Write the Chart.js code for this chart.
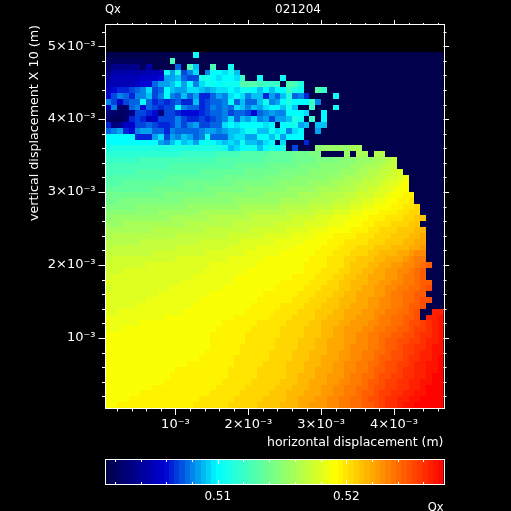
<!DOCTYPE html>
<html>
<head>
<meta charset="utf-8">
<script src="https://cdn.jsdelivr.net/npm/chart.js@4/dist/chart.umd.min.js"></script>
<style>
  html, body { margin: 0; background: #000; overflow: hidden; }
  canvas { position: absolute; left: 0; top: 0; }
</style>
</head>
<body>
<canvas id="map" width="511" height="511"></canvas>
<canvas id="bar" width="511" height="511"></canvas>
<script>
// Qx, in units of 0.0005 above 0.5. One list per scan line, top to bottom.
// 3 is the bottom of the colour scale, also used for lost particles.
const qxRows = [
[3,3,3,3,3,3,3,3,3,3,3,3,3,3,3,21,3,3,3,3,3,3,3,3,3,3,3,3,3,3,3,3,3,3,3,3,3,3,3,3,3,3,3,3,3,3,3,3,3,3,3,3,3,3,3,3,3,3],
[4,4,4,4,4,4,4,3,3,3,3,25,3,3,3,3,3,3,3,3,3,3,3,3,3,3,3,3,3,3,3,3,3,3,3,3,3,3,3,3,3,3,3,3,3,3,3,3,3,3,3,3,3,3,3,3,3,3],
[5,7,7,7,7,7,4,9,3,3,3,3,15,3,25,18,3,3,25,3,3,21,3,3,3,3,3,3,3,3,3,3,3,3,3,3,3,3,3,3,3,3,3,3,3,3,3,3,3,3,3,3,3,3,3,3,3,3],
[6,9,9,9,9,9,9,10,10,10,21,17,22,14,16,19,3,16,20,20,19,21,18,3,3,3,3,3,3,3,3,3,3,3,3,3,3,3,3,3,3,3,3,3,3,3,3,3,3,3,3,3,3,3,3,3,3,3],
[8,10,10,10,10,10,11,11,11,12,17,17,18,15,14,14,21,22,20,19,20,20,19,24,3,3,21,3,3,3,21,3,3,3,3,3,3,3,3,3,3,3,3,3,3,3,3,3,3,3,3,3,3,3,3,3,3,3],
[9,10,10,10,10,11,12,12,15,17,17,18,20,17,20,16,19,21,21,20,21,21,21,26,26,26,25,24,24,24,3,26,25,22,3,3,3,3,3,3,3,3,3,3,3,3,3,3,3,3,3,3,3,3,3,3,3,3],
[10,12,13,13,14,15,16,19,14,15,20,18,17,17,19,19,18,17,18,19,19,20,19,21,21,20,18,20,18,20,20,24,22,21,3,3,26,24,3,3,3,3,3,3,3,3,3,3,3,3,3,3,3,3,3,3,3,3],
[12,14,16,15,13,16,16,18,14,16,20,16,15,18,15,17,13,13,15,17,16,19,20,19,16,18,18,13,17,15,18,22,15,16,13,3,3,3,3,21,3,3,3,3,3,3,3,3,3,3,3,3,3,3,3,3,3,3],
[16,14,11,14,15,15,20,15,13,14,13,14,15,13,13,18,13,14,15,15,16,20,15,18,15,15,18,21,16,17,20,22,20,20,20,24,16,3,3,3,3,3,3,3,3,3,3,3,3,3,3,3,3,3,3,3,3,3],
[10,16,5,5,15,16,12,15,14,13,14,14,20,16,15,15,13,14,16,15,16,15,19,18,16,18,17,19,20,20,18,21,18,3,3,24,3,3,3,21,3,3,3,3,3,3,3,3,3,3,3,3,3,3,3,3,3,3],
[6,5,4,5,7,14,14,13,12,6,14,14,13,12,12,12,13,14,15,15,16,14,15,15,14,12,15,16,17,16,16,20,20,20,19,3,3,20,3,3,3,3,3,3,3,3,3,3,3,3,3,3,3,3,3,3,3,3],
[5,4,4,5,13,14,13,10,11,14,14,14,16,14,13,13,14,13,14,15,16,19,15,18,17,19,16,17,14,17,17,18,22,21,3,24,3,20,3,3,3,3,3,3,3,3,3,3,3,3,3,3,3,3,3,3,3,3],
[13,6,7,11,11,14,14,15,14,13,13,14,16,14,16,17,14,14,15,15,19,20,19,20,20,20,20,19,20,3,20,21,21,17,18,3,18,18,3,3,3,3,3,3,3,3,3,3,3,3,3,3,3,3,3,3,3,3],
[15,16,17,13,12,16,17,17,15,15,13,16,15,15,15,15,16,17,17,16,17,18,18,19,21,21,18,18,21,19,20,16,19,20,3,3,17,3,3,3,3,3,3,3,3,3,3,3,3,3,3,3,3,3,3,3,3,3],
[20,20,20,20,20,13,13,13,17,19,14,17,16,18,17,15,16,21,15,15,15,18,19,19,17,17,20,20,18,21,17,20,20,20,3,3,3,3,3,3,3,3,3,3,3,3,3,3,3,3,3,3,3,3,3,3,3,3],
[20,20,20,20,20,20,20,20,20,17,16,18,20,18,19,17,20,21,20,19,18,19,18,21,18,18,17,19,20,3,19,3,3,3,13,3,3,3,3,3,3,3,3,3,3,3,3,3,3,3,3,3,3,3,3,3,3,3],
[22,22,22,22,22,22,22,22,22,22,22,22,22,22,22,22,22,22,22,22,21,18,19,20,21,21,18,20,22,20,22,3,14,3,3,3,30,31,31,31,31,31,32,32,3,3,3,3,3,3,3,3,3,3,3,3,3,3],
[23,23,23,23,23,23,23,23,23,23,23,23,23,24,24,24,24,24,24,25,25,25,25,26,26,26,26,26,27,27,27,27,28,28,28,29,29,3,3,3,3,31,3,32,32,3,33,33,3,3,3,3,3,3,3,3,3,3],
[24,24,24,24,24,24,25,25,25,25,25,25,25,25,25,25,25,25,25,26,26,26,26,26,26,26,26,27,27,27,27,27,28,28,28,28,29,29,29,29,30,30,30,31,31,31,32,32,33,34,3,3,3,3,3,3,3,3],
[25,25,25,25,25,25,25,25,25,25,25,26,26,26,26,26,26,26,26,26,26,26,27,27,27,27,27,27,28,28,28,28,28,29,29,29,29,30,30,30,30,30,31,31,32,32,32,33,34,34,3,3,3,3,3,3,3,3],
[25,25,25,25,25,26,26,26,26,26,26,26,26,26,26,26,27,27,27,27,27,27,27,27,28,28,28,28,28,28,29,29,29,29,29,30,30,30,30,30,31,31,31,32,32,33,33,34,34,35,36,3,3,3,3,3,3,3],
[26,26,26,26,26,26,26,26,26,26,27,27,27,27,27,27,27,27,27,27,28,28,28,28,28,28,28,29,29,29,29,29,30,30,30,30,30,30,31,31,31,32,32,32,33,33,34,34,35,35,36,37,3,3,3,3,3,3],
[26,26,26,27,27,27,27,27,27,27,27,27,27,28,28,28,28,28,28,28,28,28,29,29,29,29,29,29,29,30,30,30,30,30,30,31,31,31,31,32,32,32,33,33,34,34,34,35,36,36,37,38,3,3,3,3,3,3],
[27,27,27,27,27,27,27,27,28,28,28,28,28,28,28,28,28,29,29,29,29,29,29,29,30,30,30,30,30,30,30,31,31,31,31,31,32,32,32,32,33,33,33,34,34,35,35,36,36,37,38,38,3,3,3,3,3,3],
[28,28,28,28,28,28,28,28,28,28,29,29,29,29,29,29,29,29,29,30,30,30,30,30,30,30,30,31,31,31,31,31,31,32,32,32,32,33,33,33,33,34,34,35,35,35,36,36,37,38,38,39,39,3,3,3,3,3],
[28,28,29,29,29,29,29,29,29,29,29,29,29,30,30,30,30,30,30,30,30,30,31,31,31,31,31,31,31,31,32,32,32,32,32,33,33,33,33,34,34,34,35,35,36,36,37,37,38,38,39,39,40,3,3,3,3,3],
[29,29,29,29,29,30,30,30,30,30,30,30,30,30,31,31,31,31,31,31,31,31,31,32,32,32,32,32,32,32,33,33,33,33,33,34,34,34,34,35,35,35,36,36,37,37,38,38,38,39,39,40,40,41,3,3,3,3],
[30,30,30,30,30,30,30,30,30,31,31,31,31,31,31,31,32,32,32,32,32,32,32,32,33,33,33,33,33,33,33,34,34,34,34,34,35,35,35,36,36,36,37,37,38,38,38,39,39,39,40,40,41,41,3,3,3,3],
[30,31,31,31,31,31,31,31,31,31,31,32,32,32,32,32,32,32,33,33,33,33,33,33,33,34,34,34,34,34,34,34,35,35,35,35,36,36,36,37,37,37,38,38,38,39,39,39,40,40,40,41,41,42,42,3,3,3],
[31,31,31,32,32,32,32,32,32,32,32,32,32,32,33,33,33,33,33,33,33,33,34,34,34,34,34,34,34,35,35,35,35,35,36,36,36,36,37,37,37,38,38,38,39,39,40,40,40,41,41,41,42,42,3,3,3,3],
[32,32,32,32,32,32,32,32,33,33,33,33,33,33,33,33,33,34,34,34,34,34,34,34,34,35,35,35,35,35,35,36,36,36,36,37,37,37,38,38,38,38,39,39,39,40,40,41,41,41,42,42,42,43,43,3,3,3],
[32,33,33,33,33,33,33,33,33,33,33,33,34,34,34,34,34,34,34,34,34,35,35,35,35,35,35,36,36,36,36,36,37,37,37,37,38,38,38,39,39,39,39,40,40,40,41,41,41,42,42,42,43,43,44,3,3,3],
[33,33,33,33,33,33,34,34,34,34,34,34,34,34,34,34,35,35,35,35,35,35,35,36,36,36,36,36,36,37,37,37,37,37,38,38,38,38,39,39,39,40,40,40,40,41,41,41,42,42,42,43,43,44,44,3,3,3],
[33,34,34,34,34,34,34,34,34,34,34,34,35,35,35,35,35,35,35,35,35,36,36,36,36,36,37,37,37,37,37,37,38,38,38,38,38,39,39,39,40,40,40,41,41,41,42,42,42,43,43,43,44,44,45,3,3,3],
[34,34,34,34,34,34,34,34,35,35,35,35,35,35,35,35,35,36,36,36,36,36,36,36,37,37,37,37,37,37,38,38,38,38,38,38,39,39,39,40,40,40,41,41,41,42,42,43,43,43,44,44,45,46,46,3,3,3],
[34,35,35,35,35,35,35,35,35,35,35,35,36,36,36,36,36,36,36,36,36,37,37,37,37,37,37,38,38,38,38,38,38,38,38,39,39,39,40,40,40,41,41,42,42,42,43,43,44,44,44,45,46,47,47,3,3,3],
[35,35,35,35,35,35,35,36,36,36,36,36,36,36,36,36,36,36,37,37,37,37,37,37,37,37,38,38,38,38,38,38,38,38,39,39,39,39,40,40,40,41,42,42,42,43,43,44,44,45,45,46,46,47,48,49,3,3],
[35,35,35,36,36,36,36,36,36,36,36,36,36,36,36,36,36,37,37,37,37,37,37,37,38,38,38,38,38,38,38,38,38,38,39,39,39,40,40,40,41,41,42,42,43,43,44,44,45,45,46,46,47,48,49,3,3,3],
[35,36,36,36,36,36,36,36,36,36,36,36,36,36,36,37,37,37,37,37,37,37,38,38,38,38,38,38,38,38,38,38,39,39,39,39,40,40,40,41,41,42,42,43,43,44,44,44,45,45,46,47,47,48,49,3,3,3],
[36,36,36,36,36,36,36,36,36,36,36,36,36,37,37,37,37,37,37,37,37,37,38,38,38,38,38,38,38,38,39,39,39,39,39,40,40,40,41,41,42,42,43,43,43,44,44,45,45,46,46,47,47,48,49,49,3,3],
[35,36,36,36,36,36,36,36,36,36,36,37,37,37,37,37,37,37,37,37,38,38,38,38,38,38,38,38,38,39,39,39,39,39,40,40,40,41,41,41,42,42,43,43,44,44,45,45,46,46,47,47,48,48,49,50,3,3],
[36,36,36,36,36,36,36,36,36,37,37,37,37,37,37,37,37,37,38,38,38,38,38,38,38,38,38,39,39,39,39,39,39,40,40,40,41,41,41,42,42,43,43,44,44,44,45,45,46,47,47,48,48,49,49,3,3,3],
[36,36,36,36,36,36,36,37,37,37,37,37,37,37,37,37,38,38,38,38,38,38,38,38,38,38,39,39,39,39,39,39,40,40,40,41,41,41,42,42,43,43,43,44,44,45,45,46,46,47,47,48,48,49,50,50,3,3],
[36,36,36,36,36,37,37,37,37,37,37,37,37,37,37,38,38,38,38,38,38,38,38,38,38,39,39,39,39,39,40,40,40,40,41,41,41,42,42,42,43,43,44,44,44,45,45,46,46,47,47,48,49,49,50,3,3,3],
[36,36,37,37,37,37,37,37,37,37,37,37,37,38,38,38,38,38,38,38,38,38,38,38,39,39,39,39,39,40,40,40,40,41,41,41,42,42,42,43,43,44,44,44,45,45,46,46,47,47,48,48,49,50,3,3,53,53],
[37,37,37,37,37,37,37,37,37,37,38,38,38,38,38,38,38,38,38,38,38,38,39,39,39,39,39,39,40,40,40,40,41,41,41,41,42,42,43,43,43,44,44,45,45,45,46,47,47,48,48,49,49,50,3,53,53,54],
[37,37,37,37,37,37,38,38,38,38,38,38,38,38,38,38,38,38,38,38,39,39,39,39,39,39,40,40,40,40,40,41,41,41,41,42,42,43,43,43,44,44,45,45,45,46,46,47,47,48,48,49,50,50,51,52,53,54],
[37,37,37,38,38,38,38,38,38,38,38,38,38,38,38,38,38,38,38,39,39,39,39,39,39,40,40,40,40,40,41,41,41,41,42,42,42,43,43,44,44,45,45,45,46,46,47,47,48,48,49,49,50,51,51,52,53,54],
[38,38,38,38,38,38,38,38,38,38,38,38,38,38,38,38,38,38,39,39,39,39,39,39,40,40,40,40,40,40,41,41,41,41,42,42,42,43,43,44,44,45,45,46,46,47,47,48,48,49,49,50,50,51,52,52,53,54],
[38,38,38,38,38,38,38,38,38,38,38,38,38,38,38,38,38,38,39,39,39,39,39,39,40,40,40,40,40,41,41,41,41,42,42,42,43,43,44,44,44,45,45,46,46,47,47,48,49,49,50,50,51,51,52,53,53,54],
[38,38,38,38,38,38,38,38,38,38,38,38,38,38,38,38,38,38,39,39,39,39,39,40,40,40,40,40,40,41,41,41,41,42,42,42,43,43,44,44,44,45,46,46,46,47,47,48,49,49,50,51,51,52,52,53,54,54],
[38,38,38,38,38,38,38,38,38,38,38,38,38,38,38,38,38,39,39,39,39,39,39,40,40,40,40,40,41,41,41,41,42,42,42,43,43,43,44,44,45,45,46,46,47,47,48,48,49,50,50,51,51,52,53,53,54,54],
[38,38,38,38,38,38,38,38,38,38,38,38,38,38,38,38,39,39,39,39,39,39,40,40,40,40,40,40,41,41,41,41,42,42,42,43,43,44,44,44,45,45,46,46,47,47,48,49,49,50,50,51,52,52,53,53,54,55],
[38,38,38,38,38,38,38,38,38,38,38,38,38,38,39,39,39,39,39,39,39,39,40,40,40,40,40,41,41,41,41,42,42,42,43,43,43,44,44,45,45,46,46,47,47,48,48,49,50,50,51,51,52,53,53,54,54,55],
[38,38,38,38,38,38,38,38,38,38,38,38,39,39,39,39,39,39,39,39,39,40,40,40,40,40,41,41,41,41,41,42,42,42,43,43,44,44,44,45,45,46,46,47,47,48,49,49,50,50,51,52,52,53,53,54,54,55],
[38,38,38,38,38,38,38,38,38,38,38,39,39,39,39,39,39,39,39,39,39,40,40,40,40,40,41,41,41,41,41,42,42,43,43,43,44,44,45,45,45,46,47,47,48,48,49,50,50,51,51,52,52,53,53,54,55,55],
[38,38,38,38,38,38,38,38,38,38,39,39,39,39,39,39,39,39,39,39,40,40,40,40,40,41,41,41,41,41,42,42,42,43,43,44,44,44,45,45,46,46,47,47,48,49,49,50,51,51,52,52,53,53,54,54,55,55],
[38,38,38,38,38,38,38,38,39,39,39,39,39,39,39,39,39,39,39,40,40,40,40,40,41,41,41,41,41,42,42,42,43,43,43,44,44,45,45,46,46,47,47,48,48,49,50,50,51,51,52,52,53,53,54,55,55,55],
[38,38,38,38,38,38,39,39,39,39,39,39,39,39,39,39,39,39,40,40,40,40,40,41,41,41,41,41,42,42,42,43,43,43,44,44,44,45,45,46,46,47,47,48,49,49,50,51,51,52,52,53,53,54,54,55,55,55],
[38,38,38,38,39,39,39,39,39,39,39,39,39,39,39,39,40,40,40,40,40,40,41,41,41,41,41,42,42,42,42,43,43,44,44,44,45,45,46,46,47,47,48,48,49,50,50,51,52,52,53,53,54,54,55,55,55,55],
[38,38,39,39,39,39,39,39,39,39,39,39,39,39,39,40,40,40,40,40,40,41,41,41,41,41,42,42,42,42,43,43,43,44,44,45,45,45,46,46,47,47,48,48,49,49,50,51,52,52,53,54,54,55,55,55,55,55]
];

const cellSize = 0.08e-3;
const firstCentreX = 0.08e-3;
const firstCentreY = 4.88e-3;

const xMajorTicks = [1e-3, 2e-3, 3e-3, 4e-3];
const xTickLabels = ["10⁻³", "2×10⁻³", "3×10⁻³", "4×10⁻³"];
const yMajorTicks = [1e-3, 2e-3, 3e-3, 4e-3, 5e-3];
const yTickLabels = ["10⁻³", "2×10⁻³", "3×10⁻³", "4×10⁻³", "5×10⁻³"];
const barMajorTicks = [0.51, 0.52];
const barTickLabels = ["0.51", "0.52"];

const xMin = 0.04e-3, xMax = 4.68e-3;
const yMin = 0.04e-3, yMax = 5.29e-3;
const qxMin = 0.50127, qxMax = 0.52756;
const barSteps = 64;

const colourStops = [
  [0, 0, 0, 70],
  [0.176, 0, 0, 210],
  [0.332, 0, 255, 255],
  [0.68, 255, 255, 0],
  [1, 255, 0, 0],
];

const fontFamily = "'DejaVu Sans', sans-serif";
const left = 105.5, right = 443.5;

function qxColour(qx) {
  const f = Math.min(1, Math.max(0, (qx - qxMin) / (qxMax - qxMin)));
  for (let i = 1; i < colourStops.length; i++) {
    const a = colourStops[i - 1], b = colourStops[i];
    if (f <= b[0]) {
      const t = (f - a[0]) / (b[0] - a[0]);
      const c = [1, 2, 3].map((k) => Math.round(a[k] + (b[k] - a[k]) * t));
      return `rgb(${c[0]},${c[1]},${c[2]})`;
    }
  }
  return "rgb(255,0,0)";
}

function minorTicks(from, to, step) {
  const out = [];
  for (let i = Math.ceil(from / step - 1e-6); i * step <= to + 1e-9; i++) out.push(i * step);
  return out;
}

function labelFor(values, labels, v) {
  const i = values.findIndex((t) => Math.abs(t - v) < 1e-9);
  return i < 0 ? "" : labels[i];
}

// fills the cells of every dataset, edges go through the chart scales
const cellsPlugin = {
  id: "cells",
  beforeDatasetsDraw(chart) {
    const { ctx, chartArea, scales } = chart;
    ctx.save();
    ctx.beginPath();
    ctx.rect(chartArea.left, chartArea.top, chartArea.right - chartArea.left, chartArea.bottom - chartArea.top);
    ctx.clip();
    chart.data.datasets[0].data.forEach((p) => {
      const x0 = Math.round(scales.x.getPixelForValue(p.x - p.w / 2));
      const x1 = Math.round(scales.x.getPixelForValue(p.x + p.w / 2));
      const y0 = Math.round(scales.y.getPixelForValue(p.y + p.h / 2));
      const y1 = Math.round(scales.y.getPixelForValue(p.y - p.h / 2));
      ctx.fillStyle = qxColour(p.qx);
      ctx.fillRect(x0, y0, x1 - x0, y1 - y0);
    });
    ctx.restore();
  },
};

function drawFrame(chart) {
  const { ctx, chartArea: a } = chart;
  ctx.strokeStyle = "#fff";
  ctx.lineWidth = 1;
  ctx.strokeRect(Math.round(a.left) - 0.5, Math.round(a.top) - 0.5, Math.round(a.right - a.left) + 1, Math.round(a.bottom - a.top) + 1);
}

function line(ctx, x0, y0, x1, y1) {
  ctx.beginPath();
  ctx.moveTo(x0, y0);
  ctx.lineTo(x1, y1);
  ctx.stroke();
}

const mapFrame = {
  id: "mapFrame",
  afterDraw(chart) {
    const { ctx, chartArea: a, scales } = chart;
    drawFrame(chart);
    const isMajor = (list, v) => list.some((t) => Math.abs(t - v) < 1e-9);
    minorTicks(xMin, xMax, 2e-4).forEach((v) => {
      const x = Math.round(scales.x.getPixelForValue(v)) + 0.5;
      const major = isMajor(xMajorTicks, v);
      line(ctx, x, a.bottom, x, a.bottom + (major ? 7 : 3.5));
      line(ctx, x, a.top, x, a.top - (major ? 5 : 2));
    });
    minorTicks(yMin, yMax, 2e-4).forEach((v) => {
      const y = Math.round(scales.y.getPixelForValue(v)) + 0.5;
      const major = isMajor(yMajorTicks, v);
      line(ctx, a.left, y, a.left - (major ? 7 : 3.5), y);
      line(ctx, a.right, y, a.right + (major ? 5.5 : 3), y);
    });
    ctx.fillStyle = "#fff";
    ctx.textBaseline = "middle";
    ctx.font = "11.5px " + fontFamily;
    ctx.textAlign = "left";
    ctx.fillText("Qx", 105, 10);
    ctx.textAlign = "center";
    ctx.font = "12px " + fontFamily;
    ctx.fillText("021204", 298, 10);
  },
};

const barFrame = {
  id: "barFrame",
  afterDraw(chart) {
    const { ctx, chartArea: a, scales } = chart;
    drawFrame(chart);
    minorTicks(qxMin, qxMax, 0.002).forEach((v) => {
      const x = Math.round(scales.x.getPixelForValue(v)) + 0.5;
      const len = barMajorTicks.some((t) => Math.abs(t - v) < 1e-6) ? 4 : 2;
      line(ctx, x, a.top, x, a.top + len);
      line(ctx, x, a.bottom, x, a.bottom - len);
    });
  },
};

const mapPoints = [];
qxRows.forEach((row, r) => {
  row.forEach((level, c) => {
    mapPoints.push({
      x: firstCentreX + c * cellSize,
      y: firstCentreY - r * cellSize,
      w: cellSize,
      h: cellSize,
      qx: 0.5 + level / 2000,
    });
  });
});

const barPoints = [];
const barStep = (qxMax - qxMin) / barSteps;
for (let i = 0; i < barSteps; i++) {
  const qx = qxMin + (i + 0.5) * barStep;
  barPoints.push({ x: qx, y: 0.5, w: barStep, h: 1, qx });
}

new Chart(document.getElementById("map"), {
  type: "scatter",
  data: { datasets: [{ label: "Qx", data: mapPoints, pointRadius: 0, pointHoverRadius: 0 }] },
  options: {
    responsive: false,
    animation: false,
    events: [],
    layout: { padding: { top: 25, right: 67.5, left: 0, bottom: 0 } },
    plugins: { legend: { display: false }, tooltip: { enabled: false } },
    scales: {
      x: {
        type: "linear",
        min: xMin,
        max: xMax,
        grid: { display: false, drawTicks: false },
        border: { display: false },
        afterBuildTicks: (s) => { s.ticks = xMajorTicks.map((value) => ({ value })); },
        afterFit: (s) => { s.height = 103; },
        ticks: {
          autoSkip: false,
          maxRotation: 0,
          padding: 9,
          color: "#fff",
          font: { family: fontFamily, size: 13 },
          callback: (v) => labelFor(xMajorTicks, xTickLabels, v),
        },
        title: {
          display: true,
          text: "horizontal displacement (m)",
          align: "end",
          color: "#fff",
          font: { family: fontFamily, size: 12.5 },
          padding: { top: 0, bottom: 61 },
        },
      },
      y: {
        type: "linear",
        min: yMin,
        max: yMax,
        grid: { display: false, drawTicks: false },
        border: { display: false },
        afterBuildTicks: (s) => { s.ticks = yMajorTicks.map((value) => ({ value })); },
        afterFit: (s) => { s.width = left; },
        ticks: {
          autoSkip: false,
          padding: 10,
          color: "#fff",
          font: { family: fontFamily, size: 13 },
          callback: (v) => labelFor(yMajorTicks, yTickLabels, v),
        },
        title: {
          display: true,
          text: "vertical displacement X 10 (m)",
          align: "end",
          color: "#fff",
          font: { family: fontFamily, size: 12.7 },
          padding: { top: 27, bottom: 0 },
        },
      },
    },
  },
  plugins: [cellsPlugin, mapFrame],
});

new Chart(document.getElementById("bar"), {
  type: "scatter",
  data: { datasets: [{ label: "Qx scale", data: barPoints, pointRadius: 0, pointHoverRadius: 0 }] },
  options: {
    responsive: false,
    animation: false,
    events: [],
    layout: { padding: { top: 460, right: 511 - right, left: 0, bottom: 0 } },
    plugins: { legend: { display: false }, tooltip: { enabled: false } },
    scales: {
      x: {
        type: "linear",
        min: qxMin,
        max: qxMax,
        grid: { display: false, drawTicks: false },
        border: { display: false },
        afterBuildTicks: (s) => { s.ticks = barMajorTicks.map((value) => ({ value })); },
        afterFit: (s) => { s.height = 27; },
        ticks: {
          autoSkip: false,
          maxRotation: 0,
          padding: 6,
          color: "#fff",
          font: { family: fontFamily, size: 12 },
          callback: (v) => labelFor(barMajorTicks, barTickLabels, v),
        },
        title: {
          display: true,
          text: "Qx",
          align: "end",
          color: "#fff",
          font: { family: fontFamily, size: 11.5 },
          padding: { top: 0, bottom: -4 },
        },
      },
      y: {
        type: "linear",
        min: 0,
        max: 1,
        grid: { display: false, drawTicks: false },
        border: { display: false },
        afterFit: (s) => { s.width = left; },
        ticks: { display: false },
      },
    },
  },
  plugins: [cellsPlugin, barFrame],
});
</script>
</body>
</html>
